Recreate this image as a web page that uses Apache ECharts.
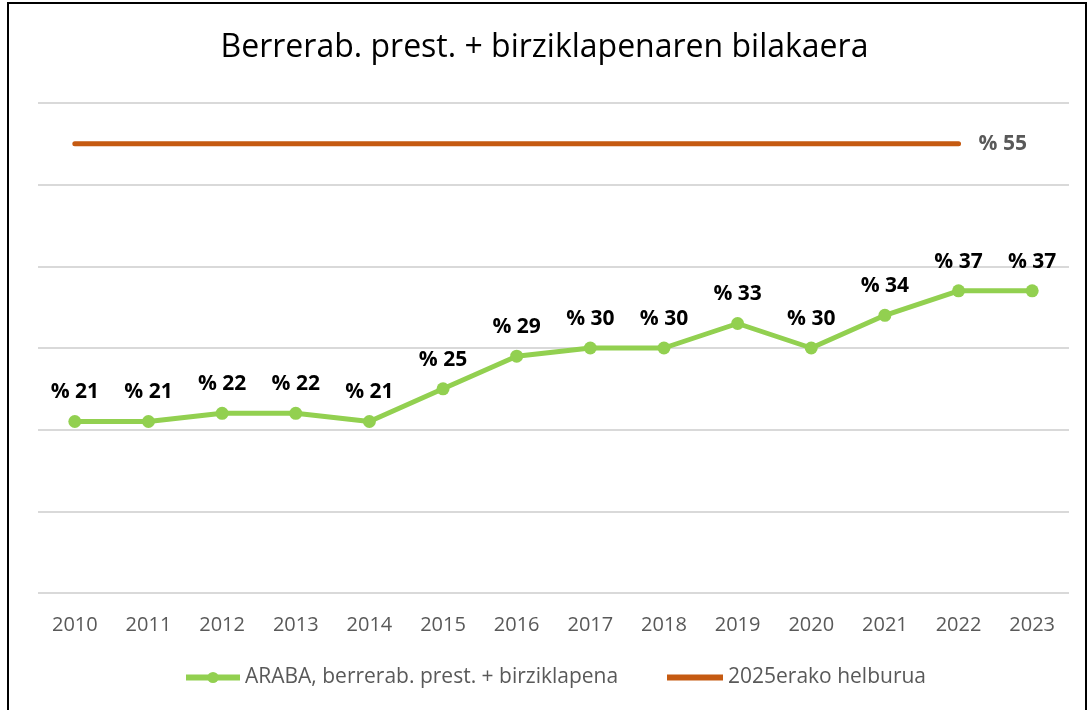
<!DOCTYPE html>
<html><head><meta charset="utf-8">
<script src="https://cdn.jsdelivr.net/npm/echarts@6/dist/echarts.min.js"></script>
<style>html,body{margin:0;padding:0;background:#fff}#c{width:1089px;height:710px}</style>
</head><body><div id="c"></div>
<script>
const categories = ['2010','2011','2012','2013','2014','2015','2016','2017','2018','2019','2020','2021','2022','2023'];
const arabaValues = [21,21,22,22,21,25,29,30,30,33,30,34,37,37];
const targetValues = [55,55,55,55,55,55,55,55,55,55,55,55,55,null];
const seriesNames = ['ARABA, berrerab. prest. + birziklapena','2025erako helburua'];
const titleText = 'Berrerab. prest. + birziklapenaren bilakaera';

const chart = echarts.init(document.getElementById('c'));
chart.setOption({
  backgroundColor:'#fff',
  animation:false,
  textStyle:{fontFamily:'Open Sans'},
  graphic:[{type:'rect',shape:{x:8,y:3,width:1078,height:720},style:{fill:'none',stroke:'#000',lineWidth:2},silent:true}],
  title:{text:titleText,left:'center',top:27,textStyle:{fontSize:32,fontWeight:'normal',color:'#000',fontFamily:'Open Sans'}},
  grid:{left:38,right:20,top:103,bottom:117},
  legend:[
    {left:178,top:662,itemWidth:54,itemHeight:14,
      textStyle:{fontSize:21,color:'#595959'},lineStyle:{width:6},
      data:[{name:seriesNames[0]}]},
    {left:662,top:662,itemWidth:56,itemHeight:6,
      textStyle:{fontSize:21,color:'#595959'},
      data:[{name:seriesNames[1],icon:'rect'}]}
  ],
  xAxis:{type:'category',data:categories,boundaryGap:true,
    axisLine:{show:false},axisTick:{show:false},
    axisLabel:{fontSize:20,color:'#595959',margin:22}},
  yAxis:{type:'value',min:0,max:60,interval:10,
    axisLabel:{show:false},axisLine:{show:false},axisTick:{show:false},
    splitLine:{lineStyle:{color:'#d9d9d9',width:2}}},
  series:[
    {name:seriesNames[0],type:'line',data:arabaValues,symbol:'circle',symbolSize:13,
      itemStyle:{color:'#92D050'},lineStyle:{color:'#92D050',width:5},
      label:{show:true,position:'top',distance:12,formatter:p=>'% '+p.value,fontSize:21,fontWeight:'bold',color:'#000'}},
    {name:seriesNames[1],type:'line',data:targetValues,symbol:'none',
      itemStyle:{color:'#C55A11'},lineStyle:{color:'#C55A11',width:5,cap:'round'},
      endLabel:{show:true,formatter:p=>'% '+p.value,fontSize:21,fontWeight:'bold',color:'#595959',distance:20}}
  ]
});
</script></body></html>
